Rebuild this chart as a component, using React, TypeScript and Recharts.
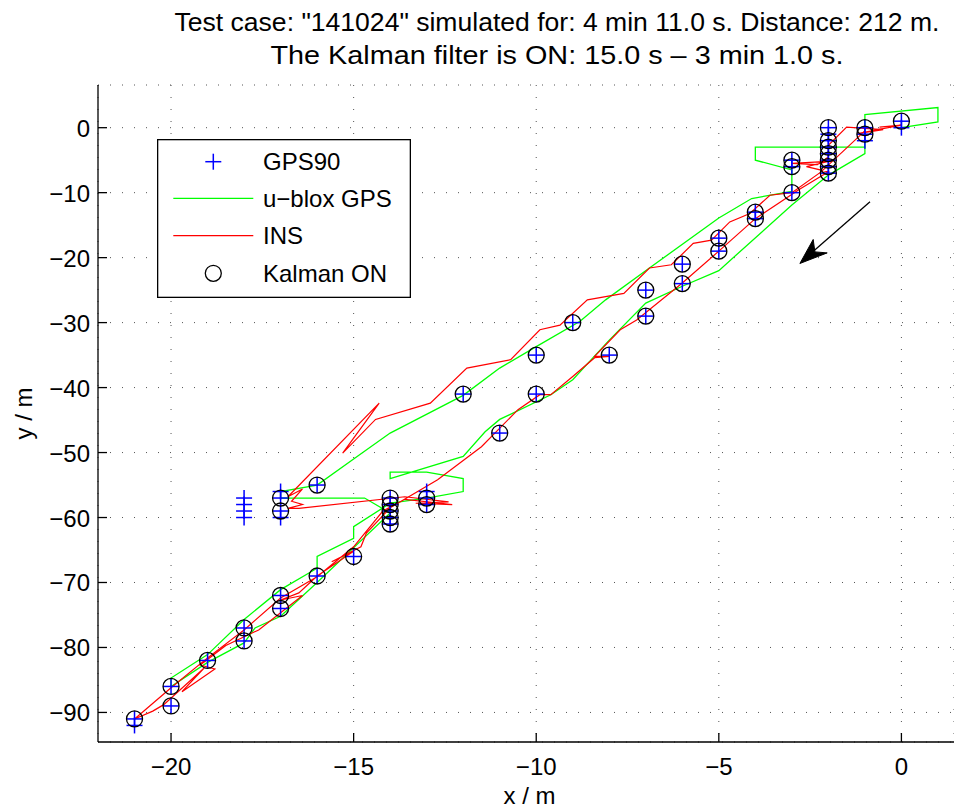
import {
  CartesianGrid,
  Legend,
  ReferenceDot,
  ReferenceLine,
  Scatter,
  ScatterChart,
  XAxis,
  YAxis,
} from "recharts";

const FONT = '"Liberation Sans", Arial, Helvetica, sans-serif';

const xTicks = [-20, -15, -10, -5, 0];
const yTicks = [-90, -80, -70, -60, -50, -40, -30, -20, -10, 0];

// Kalman ON estimates [x, y] in m
const kalmanPts = [
  [0, 1], [-1, 0], [-1, -1], [-2, 0], [-2, -2], [-2, -3], [-2, -4], [-2, -5], [-2, -6], [-2, -7],
  [-3, -5], [-3, -6], [-3, -10], [-4, -13], [-4, -14], [-5, -17], [-5, -19], [-6, -21], [-6, -24],
  [-7, -25], [-7, -29], [-9, -30], [-8, -35], [-10, -35], [-10, -41], [-12, -41], [-11, -47],
  [-16, -55], [-17, -57], [-17, -59], [-14, -57], [-14, -58], [-14, -59], [-14, -60], [-14, -61],
  [-13, -57], [-13, -58], [-15, -66], [-16, -69], [-17, -72], [-17, -74], [-18, -77], [-18, -79],
  [-19, -82], [-20, -86], [-20, -89], [-21, -91],
];

// GPS90 fixes (1 m resolution)
const gps90Pts = [
  [0, 1], [0, 0], [-1, 0], [-1, -1], [-1, -2], [-2, 0], [-2, -1], [-2, -2], [-2, -3], [-2, -4],
  [-2, -5], [-2, -6], [-2, -7], [-3, -5], [-3, -6], [-3, -10], [-4, -13], [-4, -14], [-5, -17],
  [-5, -19], [-6, -21], [-6, -24], [-7, -25], [-7, -29], [-9, -30], [-8, -35], [-10, -35],
  [-10, -41], [-12, -41], [-11, -47], [-16, -55], [-17, -56], [-17, -57], [-17, -59], [-17, -60],
  [-18, -57], [-18, -58], [-18, -59], [-18, -60], [-14, -57], [-14, -58], [-14, -59], [-14, -60],
  [-14, -61], [-13, -56], [-13, -57], [-13, -58], [-15, -66], [-16, -69], [-17, -72], [-17, -74],
  [-18, -77], [-18, -79], [-19, -82], [-20, -86], [-20, -89], [-21, -91], [-21, -92],
];

// u-blox GPS track, in driving order
const ubloxPts = [
  [0, 0], [1, 0.9], [1, 3.1], [-1, 2], [-1, -4], [-2, -7.3], [-3, -11.9], [-5, -22], [-6, -24.4],
  [-7, -27], [-8, -32.7], [-9, -38.8], [-9.6, -41.1], [-11, -44.9], [-11.4, -46.8], [-12, -50.6],
  [-14, -54], [-14, -53], [-13, -53], [-12, -54], [-12, -56], [-13, -57], [-14, -57.8],
  [-15, -61.4], [-15, -63.2], [-16, -66], [-16, -67.8], [-17, -71.1], [-18, -75.7], [-19, -81.1],
  [-20, -84.7], [-20, -86], [-19, -82.3], [-18, -79.3], [-17.7, -77], [-17, -75.2], [-16, -70],
  [-14, -59.3], [-14.7, -57], [-17, -57], [-17, -56], [-16, -55], [-15, -51], [-14, -47],
  [-12, -41.2], [-11, -37], [-10, -33.7], [-8.8, -29.8], [-8.1, -26.5], [-6.9, -21.6],
  [-5, -13.9], [-4.1, -10.9], [-3, -9.8], [-3, -6.5], [-4, -5], [-4, -3], [-1, -3],
];

// INS track, in driving order
const insPts = [
  [-0.6, 0.1], [0, 0.4], [-1.2, -0.9], [-0.5, -0.3], [-1.5, 0.1], [-2, -2.7], [-2, -4.5],
  [-2.3, -5.7], [-3, -5.5], [-2, -5.2], [-2.6, -6], [-2, -6.8], [-2.8, -9.5], [-3.2, -11],
  [-4, -14], [-5, -19], [-6, -23.9], [-7.25, -29.6], [-7.7, -31.1], [-8.4, -35.2], [-8, -35.2],
  [-8.4, -35.4], [-9, -38.3], [-9.6, -41.1], [-9.9, -41.1], [-10.5, -43.4], [-11.5, -49.1],
  [-12.7, -54.2], [-14, -58.5], [-14.65, -62.4], [-14.8, -64.5], [-15.6, -66.8], [-15, -65.2],
  [-16, -69], [-16.5, -71.6], [-17, -72.7], [-16.4, -72], [-17.6, -77.3], [-18.5, -79.7],
  [-19.2, -82.7], [-18.8, -83.3], [-19.7, -86.8], [-19.1, -83.2], [-20.2, -88.8], [-20.5, -89.8],
  [-21, -91], [-20, -86.2], [-19, -81.6], [-18, -77.3], [-17, -72.4], [-16, -69.1], [-15, -64.5],
  [-14.2, -59], [-13.6, -57.2], [-12.3, -58], [-13.3, -57.8], [-12.4, -57.6], [-13.6, -56.8],
  [-16.5, -58.6], [-16.8, -58.6], [-16.4, -58], [-16.7, -57.5], [-16.4, -55.6], [-16.8, -56.8],
  [-14.3, -42.4], [-15.3, -50.1], [-14.4, -44.9], [-12.9, -42.4], [-11.9, -37], [-10.7, -35.7],
  [-9.9, -31.1], [-9.35, -30.4], [-8.6, -26.5], [-7.6, -25.5], [-6.9, -21.6], [-6.3, -21.1],
  [-5.7, -17.8], [-5.2, -17.3], [-4.7, -14.5], [-4.15, -13.2], [-3.6, -10.4], [-3, -10],
  [-2.2, -6.8], [-1, -0.5],
];

// direction arrow (tail, tip)
const arrowTail = { x: -0.86, y: -11.4 };
const arrowTip = { x: -2.78, y: -20.9 };
const arrowBack = { x: -2.45, y: -19.2 };

const toRows = (pts: number[][]) => pts.map(([x, y]) => ({ x, y }));

const fmt = (v: number) => (v < 0 ? `\u2212${Math.abs(v)}` : `${v}`);

function XTick({ x, y, payload }: any) {
  return (
    <g>
      <line x1={x} y1={y} x2={x} y2={y - 9} stroke="#000" strokeWidth={1.3} />
      <text x={x} y={y + 33} textAnchor="middle" fontSize={24} fontFamily={FONT} fill="#000">
        {fmt(payload.value)}
      </text>
    </g>
  );
}

function YTick({ x, y, payload }: any) {
  return (
    <g>
      <line x1={x} y1={y} x2={x + 9} y2={y} stroke="#000" strokeWidth={1.3} />
      <text x={x - 8} y={y + 9} textAnchor="end" fontSize={24} fontFamily={FONT} fill="#000">
        {fmt(payload.value)}
      </text>
    </g>
  );
}

const Plus = ({ cx, cy }: any) => (
  <g stroke="#0000ff" strokeWidth={1.5}>
    <line x1={cx - 8} y1={cy} x2={cx + 8} y2={cy} />
    <line x1={cx} y1={cy - 8} x2={cx} y2={cy + 8} />
  </g>
);

const Ring = ({ cx, cy }: any) => (
  <circle cx={cx} cy={cy} r={8} fill="none" stroke="#000" strokeWidth={1.3} />
);

const NoDot = () => <g />;

const ArrowHead = ({ cx, cy }: any) => (
  <polygon
    points={`${cx},${cy} ${cx + 13.3},${cy - 24} ${cx + 15},${cy - 11.6} ${cx + 27.3},${cy - 10.6}`}
    fill="#000"
    stroke="#000"
    strokeWidth={1}
  />
);

function LegendBox() {
  const tx = 106;
  return (
    <svg width={254} height={159} style={{ display: "block" }}>
      <rect x={0.65} y={0.65} width={252.7} height={157.7} fill="#fff" stroke="#000" strokeWidth={1.3} />
      <g stroke="#0000ff" strokeWidth={1.5}>
        <line x1={48.3} y1={22.7} x2={64.3} y2={22.7} />
        <line x1={56.3} y1={14.7} x2={56.3} y2={30.7} />
      </g>
      <line x1={16.3} y1={59.3} x2={96.3} y2={59.3} stroke="#00ff00" strokeWidth={1.3} />
      <line x1={16.3} y1={96.7} x2={96.3} y2={96.7} stroke="#ff0000" strokeWidth={1.3} />
      <circle cx={56.3} cy={134.3} r={8} fill="none" stroke="#000" strokeWidth={1.3} />
      <g fontSize={24} fontFamily={FONT} fill="#000">
        <text x={tx} y={31.2}>GPS90</text>
        <text x={tx} y={67.8}>{"u\u2212blox GPS"}</text>
        <text x={tx} y={105.2}>INS</text>
        <text x={tx} y={142.8}>Kalman ON</text>
      </g>
    </svg>
  );
}

export default function App() {
  return (
    <div style={{ position: "absolute", left: 0, top: 0, width: 954, height: 808, background: "#fff" }}>
      <ScatterChart width={954} height={808} margin={{ top: 85, right: 0, bottom: 0, left: 0 }}>
        <CartesianGrid stroke="#555" strokeDasharray="1 11" strokeWidth={1} />
        <XAxis
          type="number"
          dataKey="x"
          domain={[-22, 1.44]}
          ticks={xTicks}
          allowDataOverflow
          height={66}
          tickSize={0}
          tickMargin={0}
          tickLine={false}
          tick={<XTick />}
          axisLine={{ stroke: "#000", strokeWidth: 1.3 }}
        />
        <YAxis
          type="number"
          dataKey="y"
          domain={[-94.55, 6.57]}
          ticks={yTicks}
          allowDataOverflow
          width={98}
          tickSize={0}
          tickMargin={0}
          tickLine={false}
          tick={<YTick />}
          axisLine={{ stroke: "#000", strokeWidth: 1.3 }}
        />
        <Legend
          layout="vertical"
          align="center"
          verticalAlign="middle"
          width={254}
          height={159}
          wrapperStyle={{ left: 157, top: 139, width: 254, height: 159 }}
          content={() => <LegendBox />}
        />
        <Scatter
          name="u-blox GPS"
          data={toRows(ubloxPts)}
          line={{ stroke: "#00ff00", strokeWidth: 1.3 }}
          lineType="joint"
          shape={NoDot}
          isAnimationActive={false}
        />
        <Scatter
          name="INS"
          data={toRows(insPts)}
          line={{ stroke: "#ff0000", strokeWidth: 1.2 }}
          lineType="joint"
          shape={NoDot}
          isAnimationActive={false}
        />
        <Scatter name="GPS90" data={toRows(gps90Pts)} shape={Plus} isAnimationActive={false} />
        <Scatter name="Kalman ON" data={toRows(kalmanPts)} shape={Ring} isAnimationActive={false} />
        <ReferenceLine
          segment={[arrowTail, arrowBack]}
          stroke="#000"
          strokeWidth={1.3}
        />
        <ReferenceDot x={arrowTip.x} y={arrowTip.y} r={0} shape={ArrowHead} />
      </ScatterChart>
      <svg
        width={954}
        height={808}
        style={{ position: "absolute", left: 0, top: 0, pointerEvents: "none" }}
      >
        <g fontSize={26} fontFamily={FONT} fill="#000" textAnchor="middle">
          <text x={557} y={31} textLength={765} lengthAdjust="spacingAndGlyphs">
            Test case: "141024" simulated for: 4 min 11.0 s. Distance: 212 m.
          </text>
          <text x={557} y={64} textLength={573} lengthAdjust="spacingAndGlyphs">
            The Kalman filter is ON: 15.0 s – 3 min 1.0 s.
          </text>
        </g>
        <g fontSize={24} fontFamily={FONT} fill="#000" textAnchor="middle">
          <text x={529.5} y={804}>x / m</text>
          <text x={32} y={413.5} transform="rotate(-90 32 413.5)">y / m</text>
        </g>
      </svg>
    </div>
  );
}
